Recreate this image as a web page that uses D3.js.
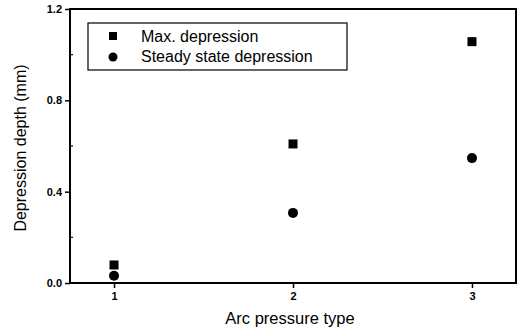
<!DOCTYPE html>
<html><head><meta charset="utf-8">
<script src="https://cdn.jsdelivr.net/npm/d3@7"></script>
<style>body{margin:0;background:#fff}svg{display:block}</style>
</head><body>
<script>
const categories = [1, 2, 3];
const maxDepression = [0.079, 0.609, 1.057];
const steadyDepression = [0.032, 0.307, 0.547];
const yTicks = [0.0, 0.4, 0.8, 1.2];
const yMinor = [0.2, 0.6, 1.0];
const seriesNames = ["Max. depression", "Steady state depression"];

const W = 517, H = 335;
const m = {left: 70, right: 1, top: 9, bottom: 52};
const svg = d3.select("body").append("svg").attr("width", W).attr("height", H);
const x = d3.scaleLinear().domain([0.754, 3.246]).range([m.left, W - m.right]);
const y = d3.scaleLinear().domain([0, 1.2]).range([H - m.bottom, m.top]);
const font = "Liberation Sans, Arial, sans-serif";

// frame
svg.append("rect").attr("x", m.left).attr("y", m.top)
  .attr("width", W - m.right - m.left).attr("height", H - m.bottom - m.top)
  .attr("fill", "none").attr("stroke", "#000").attr("stroke-width", 2);

// y axis
const yAx = svg.append("g").attr("transform", `translate(${m.left},0)`)
  .call(d3.axisLeft(y).tickValues(yTicks).tickFormat(d3.format(".1f")).tickSize(5).tickPadding(3));
yAx.select(".domain").remove();
yAx.selectAll("line").attr("stroke-width", 1.5);
yAx.selectAll("text").attr("font-family", font).attr("font-size", 11).attr("font-weight", "bold").attr("fill", "#000");
svg.append("g").selectAll("line").data(yMinor).join("line")
  .attr("x1", m.left).attr("x2", m.left + 3).attr("y1", d => y(d)).attr("y2", d => y(d))
  .attr("stroke", "#000").attr("stroke-width", 1.2);

// x axis
const xAx = svg.append("g").attr("transform", `translate(0,${H - m.bottom})`)
  .call(d3.axisBottom(x).tickValues(categories).tickFormat(d3.format("d")).tickSize(5).tickPadding(4));
xAx.select(".domain").remove();
xAx.selectAll("line").attr("stroke-width", 1.5);
xAx.selectAll("text").attr("font-family", font).attr("font-size", 11).attr("font-weight", "bold").attr("fill", "#000");

// titles
svg.append("text").attr("x", 290).attr("y", 324)
  .attr("text-anchor", "middle").attr("font-family", font).attr("font-size", 16.5)
  .text("Arc pressure type");
svg.append("text").attr("transform", `translate(26,148) rotate(-90)`)
  .attr("text-anchor", "middle").attr("font-family", font).attr("font-size", 16)
  .text("Depression depth (mm)");

// points
const sq = 9;
svg.append("g").selectAll("rect").data(categories).join("rect")
  .attr("x", (d) => x(d) - sq / 2).attr("y", (d, i) => y(maxDepression[i]) - sq / 2)
  .attr("width", sq).attr("height", sq).attr("fill", "#000");
svg.append("g").selectAll("circle").data(categories).join("circle")
  .attr("cx", d => x(d)).attr("cy", (d, i) => y(steadyDepression[i])).attr("r", 5).attr("fill", "#000");

// legend
svg.append("rect").attr("x", 88).attr("y", 23).attr("width", 259).attr("height", 47)
  .attr("fill", "#fff").attr("stroke", "#000").attr("stroke-width", 1.2);
svg.append("rect").attr("x", 113 - 4).attr("y", 36 - 4).attr("width", 8).attr("height", 8).attr("fill", "#000");
svg.append("circle").attr("cx", 113).attr("cy", 57).attr("r", 4.5).attr("fill", "#000");
svg.append("g").selectAll("text").data(seriesNames).join("text")
  .attr("x", 141).attr("y", (d, i) => 42 + i * 20)
  .attr("font-family", font).attr("font-size", 16).text(d => d);
</script>
</body></html>
